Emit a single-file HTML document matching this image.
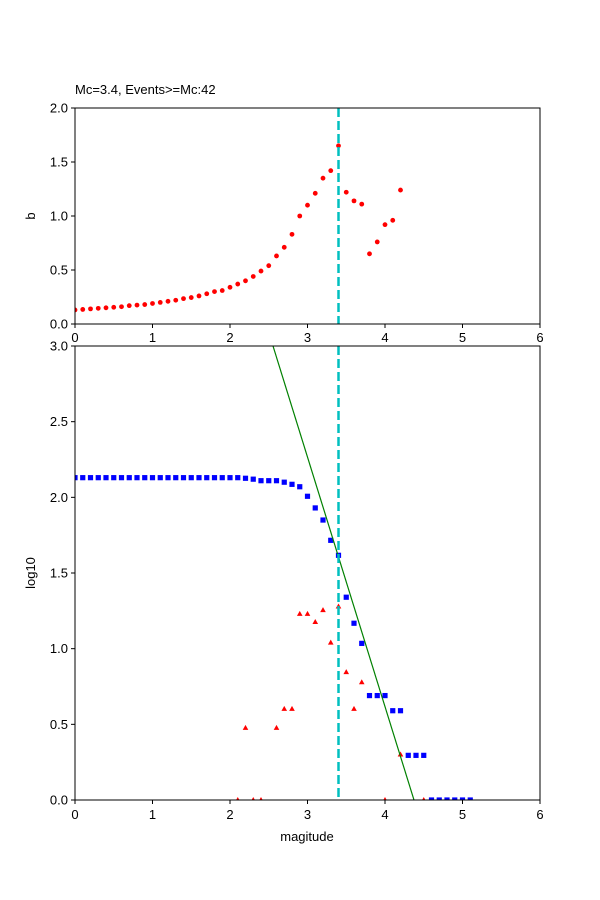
<!DOCTYPE html>
<html><head><meta charset="utf-8"><style>
body{margin:0;background:#fff}
svg{display:block;font-family:"Liberation Sans","DejaVu Sans",sans-serif}
</style></head><body>
<svg id="s" width="600" height="900" viewBox="0 0 600 900" xmlns="http://www.w3.org/2000/svg">
<defs>
<clipPath id="cb"><rect x="75" y="346" width="465" height="454"/></clipPath>
<clipPath id="ct"><rect x="75" y="108" width="465" height="216"/></clipPath>
</defs>
<rect width="600" height="900" fill="#fff"/>
<text x="75" y="94" font-size="13">Mc=3.4, Events&gt;=Mc:42</text>
<g id="gtop"></g>
<g id="gbot"></g>
</svg>
<script>
(function(){
const NS="http://www.w3.org/2000/svg";
function el(p,t,a,txt){const e=document.createElementNS(NS,t);for(const k in a)e.setAttribute(k,a[k]);if(txt!==undefined)e.textContent=txt;p.appendChild(e);return e;}
const X=v=>75+v*77.5;
const gTop=document.getElementById('gtop');
const Yt=v=>324-v*108;
const tc=el(gTop,'g',{'clip-path':'url(#ct)'});
const b=[0.13,0.135,0.14,0.145,0.15,0.155,0.16,0.17,0.175,0.18,0.19,0.20,0.21,0.22,0.235,0.245,0.26,0.28,0.30,0.31,0.34,0.37,0.40,0.44,0.49,0.54,0.63,0.71,0.83,1.0,1.10,1.21,1.35,1.42,1.65,1.22,1.14,1.11,0.65,0.76,0.92,0.96,1.24];
b.forEach((v,i)=>el(tc,'circle',{cx:X(i*0.1),cy:Yt(v),r:2.4,fill:'#ff0000'}));
el(tc,'line',{x1:X(3.4),y1:108,x2:X(3.4),y2:324,stroke:'#00bfbf','stroke-width':2.5,'stroke-dasharray':'9,4'});
el(gTop,'rect',{x:75,y:108,width:465,height:216,fill:'none',stroke:'#000','stroke-width':1});
for(let i=0;i<=6;i++){el(gTop,'line',{x1:X(i),y1:324,x2:X(i),y2:328,stroke:'#000'});el(gTop,'text',{x:X(i),y:342,'font-size':13,'text-anchor':'middle'},String(i));}
[0,0.5,1,1.5,2].forEach(v=>{el(gTop,'line',{x1:71,y1:Yt(v),x2:75,y2:Yt(v),stroke:'#000'});el(gTop,'text',{x:68,y:Yt(v)+4.5,'font-size':13,'text-anchor':'end'},v.toFixed(1));});
el(gTop,'text',{x:35,y:216,'font-size':13,'text-anchor':'middle',transform:'rotate(-90 35 216)'},'b');
const gBot=document.getElementById('gbot');
const bc=el(gBot,'g',{'clip-path':'url(#cb)'});
const Yb=v=>800-v*151.33;
const sq=[];
for(let i=0;i<=21;i++)sq.push([i*0.1,2.13]);
[[2.2,2.126],[2.3,2.12],[2.4,2.11],[2.5,2.11],[2.6,2.11],[2.7,2.10],[2.8,2.086],[2.9,2.07],[3.0,2.007],[3.1,1.93],[3.2,1.85],[3.3,1.716],[3.4,1.617],[3.5,1.34],[3.6,1.168],[3.7,1.035],[3.8,0.69],[3.9,0.69],[4.0,0.69],[4.1,0.59],[4.2,0.59],[4.3,0.295],[4.4,0.295],[4.5,0.295],[4.6,0],[4.7,0],[4.8,0],[4.9,0],[5.0,0],[5.1,0]].forEach(p=>sq.push(p));
const tri=[[2.1,0],[2.2,0.477],[2.3,0],[2.4,0],[2.6,0.477],[2.7,0.602],[2.8,0.602],[2.9,1.23],[3.0,1.23],[3.1,1.176],[3.2,1.255],[3.3,1.04],[3.4,1.279],[3.5,0.845],[3.6,0.602],[3.7,0.778],[4.0,0],[4.2,0.301],[4.5,0]];
tri.forEach(([x,v])=>{const cx=X(x),cy=Yb(v);el(bc,'polygon',{points:`${cx},${cy-3} ${cx-2.8},${cy+2} ${cx+2.8},${cy+2}`,fill:'#ff0000'});});
sq.forEach(([x,v])=>el(bc,'rect',{x:X(x)-2.6,y:Yb(v)-2.6,width:5.2,height:5.2,fill:'#0000ff'}));
el(bc,'line',{x1:273,y1:346,x2:414,y2:800,stroke:'#008000','stroke-width':1.2});
el(bc,'line',{x1:X(3.4),y1:346,x2:X(3.4),y2:800,stroke:'#00bfbf','stroke-width':2.5,'stroke-dasharray':'9,4'});
el(gBot,'rect',{x:75,y:346,width:465,height:454,fill:'none',stroke:'#000','stroke-width':1});
for(let i=0;i<=6;i++){el(gBot,'line',{x1:X(i),y1:800,x2:X(i),y2:804,stroke:'#000'});el(gBot,'text',{x:X(i),y:819,'font-size':13,'text-anchor':'middle'},String(i));}
[0,0.5,1,1.5,2,2.5,3].forEach(v=>{el(gBot,'line',{x1:71,y1:Yb(v),x2:75,y2:Yb(v),stroke:'#000'});el(gBot,'text',{x:68,y:Yb(v)+4.5,'font-size':13,'text-anchor':'end'},v.toFixed(1));});
el(gBot,'text',{x:307,y:841,'font-size':13,'text-anchor':'middle'},'magitude');
el(gBot,'text',{x:35,y:573,'font-size':13,'text-anchor':'middle',transform:'rotate(-90 35 573)'},'log10');
})();
</script>
</body></html>
